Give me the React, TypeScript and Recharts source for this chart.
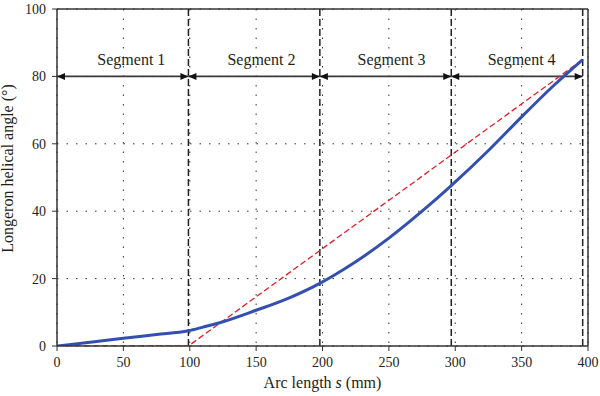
import React from "react";
import {
  ComposedChart,
  Line,
  Scatter,
  XAxis,
  YAxis,
  CartesianGrid,
  ReferenceLine,
} from "recharts";

// Arc length s (mm) and longeron helical angle (deg) — blue measured curve
const blueS = [0, 25, 50, 75, 99, 110, 125, 150, 175, 198, 210, 225, 250, 275, 297, 325, 350, 375, 396];
const blueA = [0, 1.1, 2.3, 3.4, 4.5, 5.6, 7.2, 10.6, 14.3, 18.6, 21.3, 25.0, 32.0, 40.0, 47.6, 58.0, 68.0, 77.6, 85.0];

// red dashed reference path
const redS = [0, 99, 396];
const redA = [0, 0, 85];

// segment boundaries and labels
const segBounds = [0, 99, 198, 297, 396];
const segLabels = ["Segment 1", "Segment 2", "Segment 3", "Segment 4"];
const segLabelS = [56, 154, 252, 350];
const arrowAngle = 80;
const labelAngle = 83.4;

const xTicks = [0, 50, 100, 150, 200, 250, 300, 350, 400];
const yTicks = [0, 20, 40, 60, 80, 100];

const blueData = blueS.map((s, i) => ({ s, v: blueA[i] }));
const redData = redS.map((s, i) => ({ s, v: redA[i] }));
const labelData = segLabels.map((name, i) => ({ s: segLabelS[i], v: labelAngle, name }));

const FONT = "'Liberation Serif', 'Times New Roman', serif";
const INK = "#231f20";

const ArrowShape = (props: any) => {
  const { x1, y1, x2, y2 } = props;
  const L = 8;
  const H = 3.5;
  return (
    <g>
      <line x1={x1} y1={y1} x2={x2} y2={y2} stroke="#3a3a3a" strokeWidth={1.6} />
      <polygon points={`${x1},${y1} ${x1 + L},${y1 - H} ${x1 + L},${y1 + H}`} fill="#111" />
      <polygon points={`${x2},${y2} ${x2 - L},${y2 - H} ${x2 - L},${y2 + H}`} fill="#111" />
    </g>
  );
};

const SegLabel = (props: any) => {
  const { cx, cy, payload } = props;
  return (
    <text x={cx} y={cy} textAnchor="middle" fontFamily={FONT} fontSize={16} fill={INK}>
      {payload.name}
    </text>
  );
};

const XTitle = (props: any) => {
  const vb = props.viewBox || {};
  const x = vb.x + vb.width / 2;
  const y = vb.y + 42;
  return (
    <text x={x} y={y} textAnchor="middle" fontFamily={FONT} fontSize={16} fill={INK}>
      Arc length <tspan fontStyle="italic">s</tspan> (mm)
    </text>
  );
};

const YTitle = (props: any) => {
  const vb = props.viewBox || {};
  const x = 13;
  const y = vb.y + vb.height / 2 - 9;
  return (
    <text
      x={x}
      y={y}
      textAnchor="middle"
      transform={`rotate(-90, ${x}, ${y})`}
      fontFamily={FONT}
      fontSize={16}
      fill={INK}
    >
      Longeron helical angle (°)
    </text>
  );
};

export default function App() {
  return (
    <div style={{ position: "absolute", left: 0, top: 0, background: "#fff" }}>
      <ComposedChart
        width={600}
        height={396}
        margin={{ top: 9, right: 12, bottom: 0, left: 0 }}
      >
        <CartesianGrid stroke="#333" strokeDasharray="1.5 8" strokeWidth={1} />
        <XAxis
          dataKey="s"
          type="number"
          domain={[0, 400]}
          ticks={xTicks}
          height={50}
          tickSize={5}
          tickMargin={6}
          axisLine={{ stroke: "#333", strokeWidth: 1.5 }}
          tickLine={{ stroke: "#333", strokeWidth: 1 }}
          tick={{ fontFamily: FONT, fontSize: 14, fill: INK }}
          allowDataOverflow
          label={<XTitle />}
        />
        <YAxis
          dataKey="v"
          type="number"
          domain={[0, 100]}
          ticks={yTicks}
          width={57}
          tickSize={5}
          tickMargin={6}
          axisLine={{ stroke: "#333", strokeWidth: 1.5 }}
          tickLine={{ stroke: "#333", strokeWidth: 1 }}
          tick={{ fontFamily: FONT, fontSize: 14, fill: INK }}
          allowDataOverflow
          label={<YTitle />}
        />
        <ReferenceLine y={100} stroke="#333" strokeWidth={1.5} />
        <ReferenceLine x={400} stroke="#333" strokeWidth={1.5} />
        {segBounds.slice(1).map((b) => (
          <ReferenceLine key={`b${b}`} x={b} stroke="#222" strokeWidth={1.5} strokeDasharray="7 3" />
        ))}
        {segLabels.map((n, i) => (
          <ReferenceLine
            key={`a${i}`}
            segment={[
              { x: segBounds[i], y: arrowAngle },
              { x: segBounds[i + 1], y: arrowAngle },
            ]}
            shape={ArrowShape}
          />
        ))}
        <Line
          data={redData}
          dataKey="v"
          type="linear"
          stroke="#e0202a"
          strokeWidth={1.3}
          strokeDasharray="6 3"
          dot={false}
          isAnimationActive={false}
        />
        <Line
          data={blueData}
          dataKey="v"
          type="monotone"
          stroke="#3350b0"
          strokeWidth={3}
          dot={false}
          isAnimationActive={false}
        />
        <Scatter data={labelData} dataKey="v" shape={SegLabel} isAnimationActive={false} />
      </ComposedChart>
    </div>
  );
}
